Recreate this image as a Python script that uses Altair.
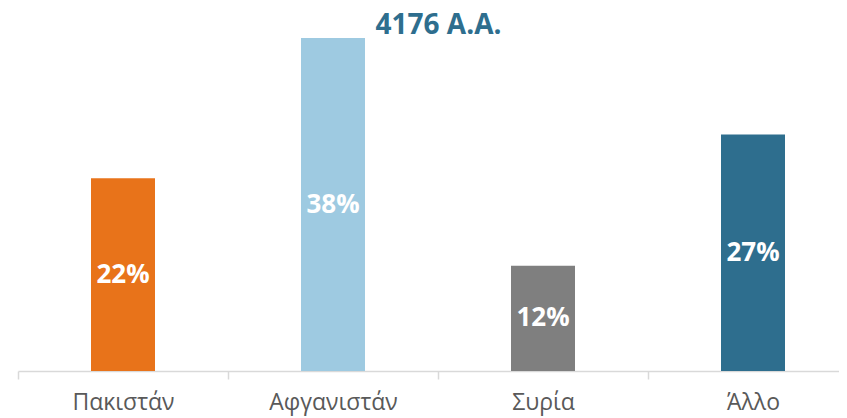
import altair as alt
import pandas as pd

categories = ["Πακιστάν", "Αφγανιστάν", "Συρία", "Άλλο"]
values = [22, 38, 12, 27]
labels = ["22%", "38%", "12%", "27%"]
colors = ["#E8731A", "#9ECAE1", "#7F7F7F", "#2E6E8E"]

df = pd.DataFrame({"cat": categories, "val": values, "lab": labels})

x = alt.X("cat:N", sort=categories, title=None,
          scale=alt.Scale(paddingInner=0, paddingOuter=0, range=[0, 840]),
          axis=alt.Axis(labelAngle=0, labelFont="Open Sans", labelFontSize=23,
                        labelColor="#595959", labelPadding=12, tickBand="extent",
                        domainColor="#D9D9D9", tickColor="#D9D9D9", tickSize=8,
                        domainWidth=1.5, tickWidth=1.5, grid=False))

bars = alt.Chart(df).mark_bar(size=64).encode(
    x=x,
    y=alt.Y("val:Q", scale=alt.Scale(domain=[0, 38], nice=False), axis=None),
    color=alt.Color("cat:N", sort=categories,
                    scale=alt.Scale(domain=categories, range=colors), legend=None),
)

text = alt.Chart(df).transform_calculate(mid="datum.val / 2").mark_text(
    font="Open Sans", fontSize=26, fontWeight="bold", color="white",
    baseline="middle", align="center"
).encode(
    x=alt.X("cat:N", sort=categories),
    y=alt.Y("mid:Q"),
    text="lab:N",
)

chart = alt.layer(bars, text).properties(
    width=813, height=333,
    title=alt.TitleParams("4176 Α.Α.", fontSize=28, font="Open Sans",
                          fontWeight="bold", color="#2E6E8E", anchor="middle",
                          offset=1, dx=14, dy=3),
    padding={"left": 10, "top": 30, "right": 8, "bottom": 45},
    autosize=alt.AutoSizeParams(type="none"),
).configure_view(stroke=None)

chart.save("out.html", embed_options={"renderer": "svg", "actions": False})
